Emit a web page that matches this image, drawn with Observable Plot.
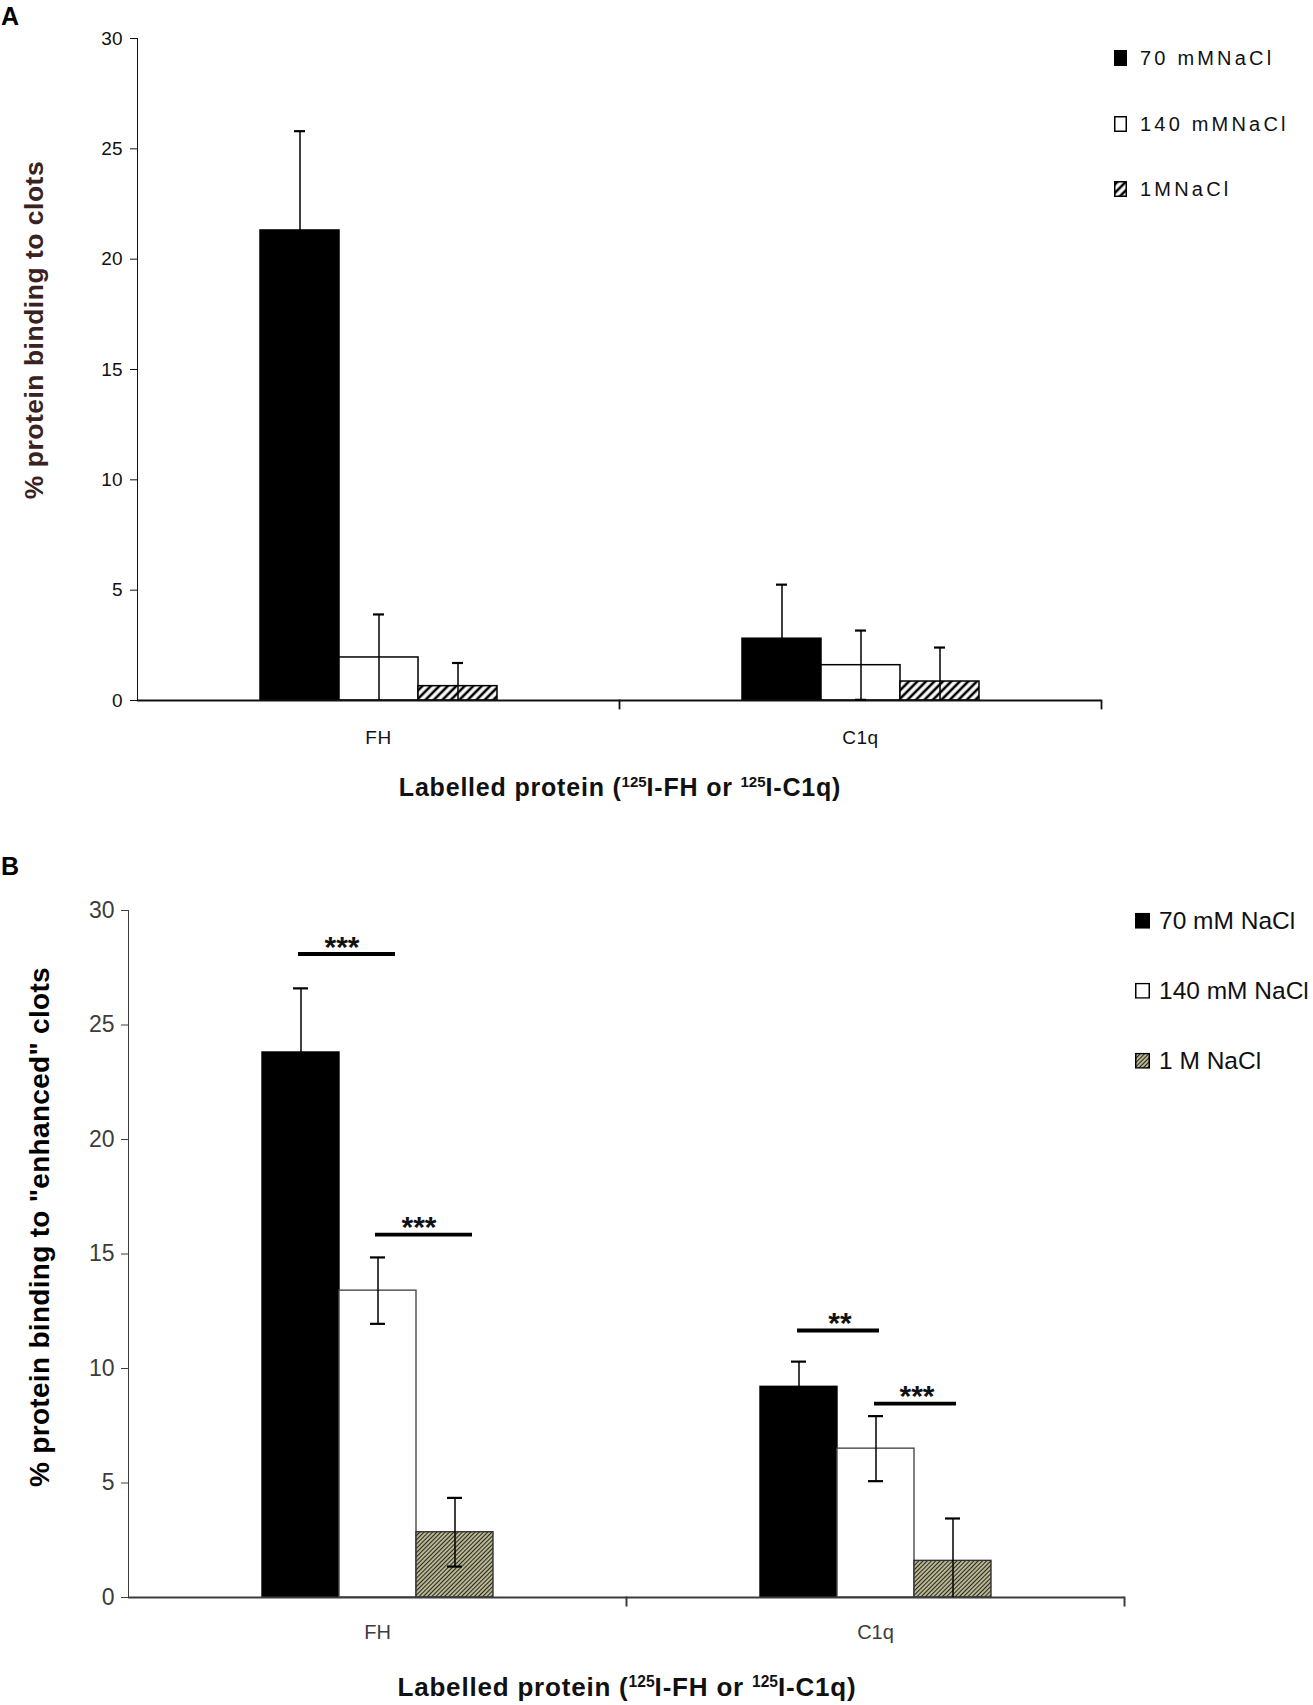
<!DOCTYPE html>
<html><head><meta charset="utf-8">
<script src="https://cdn.jsdelivr.net/npm/d3@7"></script>
<script src="https://cdn.jsdelivr.net/npm/@observablehq/plot@0.6"></script>
<style>
body{margin:0;background:#fff;font-family:"Liberation Sans",Arial,sans-serif;}
#page{position:relative;width:1313px;height:1705px;overflow:hidden;background:#fff;}
#page svg.plot{position:absolute;left:0;}
.txt{position:absolute;white-space:nowrap;line-height:1;}
.panel{font-weight:bold;font-size:25px;color:#000;}
.ctr{transform:translate(-50%,-50%);}
.rot{transform:translate(-50%,-50%) rotate(-90deg);}
.xt{font-weight:bold;color:#111;}
.xt sup{font-size:0.6em;position:relative;top:-0.58em;vertical-align:baseline;line-height:0;letter-spacing:0;}
.leg{position:absolute;display:flex;align-items:center;white-space:nowrap;line-height:1;transform:translateY(-50%);}
.leg svg{display:block;flex:none;}
.cA g[aria-label="fx-axis tick label"] text,.cA g[aria-label="fx-axis tick label"]{font-size:19px;letter-spacing:0.5px;}
.cA g[aria-label="y-axis tick label"] text,.cA g[aria-label="y-axis tick label"]{font-size:19px;}
.cB g[aria-label="fx-axis tick label"] text,.cB g[aria-label="fx-axis tick label"]{font-size:20px;}
.cB g[aria-label="y-axis tick label"] text,.cB g[aria-label="y-axis tick label"]{font-size:23px;}
</style></head><body>
<svg width="0" height="0" style="position:absolute;left:0;top:0">
<defs>
<pattern id="hatchA" patternUnits="userSpaceOnUse" width="6" height="6" patternTransform="rotate(45)">
<rect width="6" height="6" fill="#fff"/><line x1="3" y1="-1" x2="3" y2="7" stroke="#000" stroke-width="2.6"/>
</pattern>
<pattern id="hatchB" patternUnits="userSpaceOnUse" width="3" height="3" patternTransform="rotate(45)">
<rect width="3" height="3" fill="#d3d0a6"/><line x1="1.5" y1="-1" x2="1.5" y2="4" stroke="#262620" stroke-width="1.3"/>
</pattern>
</defs>
</svg>
<div id="page"></div>
<script>
// ---------- data ----------
const groups = ["FH", "C1q"];
const seriesA = ["70 mMNaCl", "140 mMNaCl", "1MNaCl"];
const seriesB = ["70 mM NaCl", "140 mM NaCl", "1 M NaCl"];
const yTicks = [0, 5, 10, 15, 20, 25, 30];

// Panel A: % protein binding to clots
const meanA_FH = [21.3, 1.95, 0.65];
const errA_FH = [4.5, 1.95, 1.05];
const meanA_C1q = [2.8, 1.6, 0.86];
const errA_C1q = [2.45, 1.57, 1.54];

// Panel B: % protein binding to "enhanced" clots
const meanB_FH = [23.8, 13.4, 2.85];
const errB_FH = [2.8, 1.45, 1.5];
const meanB_C1q = [9.2, 6.5, 1.6];
const errB_C1q = [1.1, 1.42, 1.85];

// Panel B significance brackets
const sigGroup = ["FH", "FH", "C1q", "C1q"];
const sigFrom = [0, 1, 0, 1];
const sigTo = [1, 2, 1, 2];
const sigLevel = [28.1, 15.85, 11.66, 8.47];
const sigStars = ["***", "***", "**", "***"];

const fillsA = ["#000", "#fff", "url(#hatchA)"];
const strokesA = ["#000", "#000", "#000"];
const fillsB = ["#000", "#fff", "url(#hatchB)"];
const strokesB = ["#000", "#4a4a4a", "#333"];

function makeRows(series, means, errs, fills, strokes) {
  return groups.flatMap((g, gi) => series.map((s, j) => ({
    group: g, series: s, mean: means[gi][j], err: errs[gi][j], fill: fills[j], stroke: strokes[j]
  })));
}
const rowsA = makeRows(seriesA, [meanA_FH, meanA_C1q], [errA_FH, errA_C1q], fillsA, strokesA);
const rowsB = makeRows(seriesB, [meanB_FH, meanB_C1q], [errB_FH, errB_C1q], fillsB, strokesB);
const sigRows = sigGroup.map((g, i) => ({group: g, from: seriesB[sigFrom[i]], to: seriesB[sigTo[i]], level: sigLevel[i], stars: sigStars[i]}));

const page = document.getElementById("page");

function panel(cfg) {
  const {rows, series, top, height, mt, mb, ml, mr, pad, cls, color, axisW, capInset, tickSize, tickPad, fxPad, barStroke, sig} = cfg;
  const frameH = height - mt - mb;
  const marks = [
    Plot.barY(rows, {fx: "group", x: "series", y: "mean", fill: "fill", stroke: "stroke", strokeWidth: barStroke}),
    Plot.ruleY([0], {stroke: color, strokeWidth: axisW}),
    Plot.frame({anchor: "right", stroke: color, strokeWidth: axisW, insetTop: frameH, insetBottom: -8}),
    Plot.ruleX(rows, {fx: "group", x: "series", y1: d => Math.max(0, d.mean - d.err), y2: d => d.mean + d.err, stroke: "#000", strokeWidth: 1.5}),
    Plot.tickY(rows, {fx: "group", x: "series", y: d => d.mean + d.err, stroke: "#000", strokeWidth: 2.2, insetLeft: capInset, insetRight: capInset}),
    Plot.tickY(rows, {fx: "group", x: "series", y: d => d.mean - d.err, filter: d => d.mean - d.err > 0, stroke: "#000", strokeWidth: 2.2, insetLeft: capInset, insetRight: capInset})
  ];
  if (sig) {
    marks.push(
      Plot.ruleY(sig, {filter: d => d.group === groups[0], fx: "group", x1: "from", x2: "to", y: "level", stroke: "#000", strokeWidth: 3.8, insetLeft: 36, insetRight: 21}),
      Plot.ruleY(sig, {filter: d => d.group === groups[1], fx: "group", x1: "from", x2: "to", y: "level", stroke: "#000", strokeWidth: 3.8, insetLeft: 37, insetRight: 35}),
      Plot.text(sig, {fx: "group", x: "to", y: "level", text: "stars", dx: -36, dy: -7, fontSize: 30, fontWeight: "bold", fill: "#111"})
    );
  }
  const svg = Plot.plot({
    width: 1313, height,
    marginTop: mt, marginBottom: mb, marginLeft: ml, marginRight: mr,
    className: cls,
    style: {fontFamily: "'Liberation Sans', Arial, sans-serif", color, background: "transparent", overflow: "visible"},
    fx: {domain: groups, padding: 0, label: null, axis: "bottom", tickSize: 0, tickPadding: fxPad},
    x: {domain: series, paddingInner: 0, paddingOuter: pad, axis: null},
    y: {domain: [0, 30], ticks: yTicks, tickSize, tickPadding: tickPad, line: true, label: null},
    color: {type: "identity"},
    marks
  });
  svg.classList.add("plot");
  svg.style.top = top + "px";
  page.appendChild(svg);
}

panel({rows: rowsA, series: seriesA, top: 0, height: 820, mt: 38, mb: 120, ml: 136, mr: 212, pad: 1.516,
  cls: "cA", color: "#111", axisW: 1.8, capInset: 34, tickSize: 7, tickPad: 8, fxPad: 30, barStroke: 1.5});
panel({rows: rowsB, series: seriesB, top: 850, height: 855, mt: 60, mb: 108, ml: 127, mr: 189, pad: 1.7,
  cls: "cB", color: "#3c3c3c", axisW: 2, capInset: 31, tickSize: 7, tickPad: 7, fxPad: 27, barStroke: 1.4, sig: sigRows});

// ---------- HTML texts ----------
function addText(html, cls, left, top, style) {
  const d = document.createElement("div");
  d.className = "txt " + cls;
  d.innerHTML = html;
  d.style.left = left + "px";
  d.style.top = top + "px";
  Object.assign(d.style, style || {});
  page.appendChild(d);
  return d;
}
addText("A", "panel", 1, 4);
addText("B", "panel", 1, 854);
addText("% protein binding to clots", "rot", 34, 330, {fontWeight: "bold", fontSize: "26.5px", letterSpacing: "0.5px", color: "#3a2222"});
addText("% protein binding to \"enhanced\" clots", "rot", 40, 1227, {fontWeight: "bold", fontSize: "28px", letterSpacing: "0.3px", color: "#000"});
addText("Labelled protein (<sup>125</sup>I-FH or <sup>125</sup>I-C1q)", "xt ctr", 620, 787, {fontSize: "25px", letterSpacing: "0.8px"});
addText("Labelled protein (<sup>125</sup>I-FH or <sup>125</sup>I-C1q)", "xt ctr", 627, 1687, {fontSize: "26px", letterSpacing: "0.8px"});

function swatch(fill, stroke, w, h) {
  return `<svg width="${w}" height="${h}"><rect x="0.75" y="0.75" width="${w - 1.5}" height="${h - 1.5}" fill="${fill}" stroke="${stroke}" stroke-width="1.5"/></svg>`;
}
function legend(series, fills, rowsY, left, sw, sh, gap, font, spacing) {
  series.forEach((s, i) => {
    const d = document.createElement("div");
    d.className = "leg";
    d.style.left = left + "px";
    d.style.top = rowsY[i] + "px";
    d.innerHTML = swatch(fills[i], "#000", sw, sh) + `<span style="margin-left:${gap}px;font-size:${font}px;letter-spacing:${spacing}px;color:#111">${s}</span>`;
    page.appendChild(d);
  });
}
legend(seriesA, fillsA, [58, 124, 189], 1114, 13, 16, 13, 20, 3.2);
legend(seriesB, fillsB, [921, 991, 1061], 1135, 15, 16, 9, 24.5, 0);
</script>
</body></html>
